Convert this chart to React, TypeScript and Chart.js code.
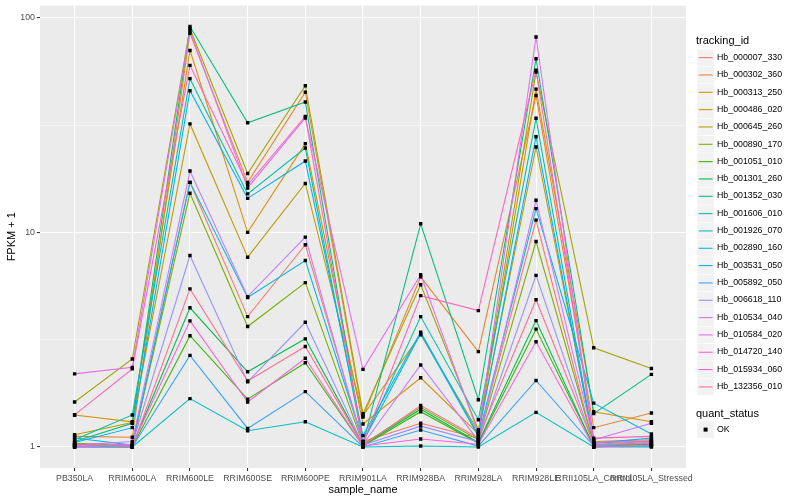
import React, { useEffect, useRef } from "react";
import { Chart, registerables } from "chart.js";

Chart.register(...registerables);

const FONT = "'Liberation Sans', Arial, Helvetica, sans-serif";

const categories = [
  "PB350LA", "RRIM600LA", "RRIM600LE", "RRIM600SE", "RRIM600PE", "RRIM901LA",
  "RRIM928BA", "RRIM928LA", "RRIM928LE", "RRII105LA_Control", "RRII105LA_Stressed",
];

const trackingIds = [
  "Hb_000007_330", "Hb_000302_360", "Hb_000313_250", "Hb_000486_020", "Hb_000645_260",
  "Hb_000890_170", "Hb_001051_010", "Hb_001301_260", "Hb_001352_030", "Hb_001606_010",
  "Hb_001926_070", "Hb_002890_160", "Hb_003531_050", "Hb_005892_050", "Hb_006618_110",
  "Hb_010534_040", "Hb_010584_020", "Hb_014720_140", "Hb_015934_060", "Hb_132356_010",
];

const seriesColors = [
  "#F8766D", "#EA8331", "#D89000", "#C09B00", "#A3A500", "#7CAE00", "#39B600", "#00BB4E",
  "#00BF7D", "#00C1A3", "#00BFC4", "#00BAE0", "#00B0F6", "#35A2FF", "#9590FF", "#C77CFF",
  "#E76BF3", "#FA62DB", "#FF62BC", "#FF6C91",
];

// FPKM + 1 per sample (order of categories)
const hb000007_330 = [1.02, 1.01, 17.1, 4.05, 8.75, 1.06, 1.29, 1.10, 11.4, 1.02, 1.04];
const hb000302_360 = [1.12, 1.11, 84.5, 17.1, 45.0, 1.38, 6.2, 2.78, 43.4, 1.23, 1.44];
const hb000313_250 = [1.41, 1.31, 70.4, 10.0, 25.9, 1.28, 2.1, 1.15, 46.5, 1.46, 1.31];
const hb000486_020 = [1.14, 1.30, 32.0, 7.66, 16.9, 1.40, 3.33, 1.18, 25.0, 1.06, 1.08];
const hb000645_260 = [1.62, 2.57, 89.0, 18.8, 48.2, 1.43, 5.7, 1.20, 55.8, 2.9, 2.32];
const hb000890_170 = [1.04, 1.02, 15.2, 3.64, 5.83, 1.03, 1.53, 1.08, 9.06, 1.03, 1.02];
const hb001051_010 = [1.01, 1.0, 3.30, 1.67, 2.47, 1.01, 1.46, 1.04, 3.54, 1.01, 1.01];
const hb001301_260 = [1.03, 1.01, 4.45, 2.24, 3.19, 1.02, 1.50, 1.05, 3.88, 1.0, 1.03];
const hb001352_030 = [1.06, 1.29, 91.0, 32.4, 40.5, 1.04, 10.96, 1.66, 64.4, 1.43, 2.18];
const hb001606_010 = [1.08, 1.41, 52.0, 15.1, 24.7, 1.05, 4.05, 1.34, 34.0, 1.05, 1.06];
const hb001926_070 = [1.0, 1.0, 1.68, 1.19, 1.31, 1.0, 1.01, 1.0, 1.45, 1.0, 1.0];
const hb002890_160 = [1.10, 1.02, 17.1, 4.97, 7.39, 1.06, 3.38, 1.12, 12.9, 1.6, 1.15];
const hb003531_050 = [1.05, 1.23, 45.7, 14.4, 21.5, 1.13, 3.43, 1.14, 27.9, 1.04, 1.10];
const hb005892_050 = [1.0, 1.0, 2.67, 1.22, 1.81, 1.0, 1.2, 1.01, 2.04, 1.01, 1.01];
const hb006618_110 = [1.01, 1.03, 7.8, 2.01, 3.81, 1.02, 1.25, 1.06, 6.3, 1.02, 1.05];
const hb010534_040 = [1.02, 1.06, 19.3, 5.02, 9.5, 1.03, 2.41, 1.07, 14.1, 1.08, 1.29];
const hb010584_020 = [2.19, 2.35, 87.0, 16.1, 34.1, 2.30, 6.34, 1.16, 81.3, 1.05, 1.07];
const hb014720_140 = [1.0, 1.02, 3.87, 1.62, 2.59, 1.01, 1.09, 1.03, 3.09, 1.0, 1.02];
const hb015934_060 = [1.41, 2.31, 60.0, 16.65, 34.7, 1.04, 5.07, 4.32, 56.9, 1.1, 1.12];
const hb132356_010 = [1.03, 1.0, 5.45, 2.03, 2.94, 1.02, 1.56, 1.10, 4.85, 1.03, 1.06];

const seriesValues = [
  hb000007_330, hb000302_360, hb000313_250, hb000486_020, hb000645_260,
  hb000890_170, hb001051_010, hb001301_260, hb001352_030, hb001606_010,
  hb001926_070, hb002890_160, hb003531_050, hb005892_050, hb006618_110,
  hb010534_040, hb010584_020, hb014720_140, hb015934_060, hb132356_010,
];

const yMajorTicks = [1, 10, 100];
const yMinorTicks = [3.1623, 31.623];

const isMajor = (v: number) => yMajorTicks.some((m) => Math.abs(m - v) < 1e-6);

export default function App() {
  const ref = useRef<HTMLCanvasElement>(null);

  useEffect(() => {
    if (!ref.current) return;
    const lineSets: any[] = seriesValues.map((vals, i) => ({
      type: "line",
      label: trackingIds[i],
      data: vals.map((v, j) => ({ x: j, y: v })),
      borderColor: seriesColors[i],
      backgroundColor: seriesColors[i],
      borderWidth: 1.07,
      pointRadius: 0,
      fill: false,
      tension: 0,
      order: 100 - i,
    }));
    const pointSet: any = {
      type: "line",
      label: "OK",
      data: seriesValues.flatMap((vals) => vals.map((v, j) => ({ x: j, y: v }))),
      showLine: false,
      pointStyle: "rect",
      pointRadius: 2.4,
      pointBackgroundColor: "#000000",
      pointBorderColor: "#000000",
      pointBorderWidth: 0,
      order: 0,
    };
    const panelBg = {
      id: "panelBg",
      beforeDraw(chart: any) {
        const { ctx, chartArea: a } = chart;
        ctx.save();
        ctx.fillStyle = "#EBEBEB";
        ctx.fillRect(a.left, a.top, a.right - a.left, a.bottom - a.top);
        ctx.restore();
      },
    };
    const chart = new Chart(ref.current, {
      type: "line",
      data: { datasets: [...lineSets, pointSet] },
      options: {
        animation: false,
        responsive: false,
        events: [],
        layout: { padding: { top: 5.5, right: 114, bottom: 0, left: 0 } },
        plugins: { legend: { display: false }, tooltip: { enabled: false } },
        scales: {
          x: {
            type: "linear",
            min: -0.6,
            max: 10.6,
            afterBuildTicks: (s: any) => {
              s.ticks = categories.map((_, i) => ({ value: i }));
            },
            afterFit: (s: any) => {
              s.height = 32;
              s.paddingLeft = 0;
              s.paddingRight = 0;
            },
            ticks: {
              autoSkip: false,
              maxRotation: 0,
              minRotation: 0,
              padding: 2,
              color: "#4D4D4D",
              font: { family: FONT, size: 8.8 },
              callback: (v: any) => categories[Number(v)] ?? "",
            },
            grid: {
              color: "#FFFFFF",
              lineWidth: 1.07,
              tickColor: "#333333",
              tickLength: 3,
              tickWidth: 1.07,
            },
            border: { display: false },
            title: {
              display: true,
              text: "sample_name",
              color: "#000000",
              font: { family: FONT, size: 11 },
              padding: { top: 0, bottom: 3.4 },
            },
          },
          y: {
            type: "logarithmic",
            min: 0.798,
            max: 114,
            afterBuildTicks: (s: any) => {
              s.ticks = [...yMajorTicks, ...yMinorTicks]
                .sort((a, b) => a - b)
                .map((v) => ({ value: v }));
            },
            afterFit: (s: any) => {
              s.width = 40;
              s.paddingTop = 0;
              s.paddingBottom = 0;
            },
            ticks: {
              autoSkip: false,
              padding: 2,
              color: "#4D4D4D",
              font: { family: FONT, size: 8.8 },
              callback: (v: any) => (isMajor(Number(v)) ? String(Number(v)) : ""),
            },
            grid: {
              color: "#FFFFFF",
              lineWidth: (c: any) => (c.tick && isMajor(c.tick.value) ? 1.07 : 0.53),
              tickColor: (c: any) => (c.tick && isMajor(c.tick.value) ? "#333333" : "rgba(0,0,0,0)"),
              tickLength: 3,
              tickWidth: 1.07,
            },
            border: { display: false },
            title: {
              display: true,
              text: "FPKM + 1",
              color: "#000000",
              font: { family: FONT, size: 11 },
              padding: { top: 5.5, bottom: 0 },
            },
          },
        },
      } as any,
      plugins: [panelBg],
    });
    return () => chart.destroy();
  }, []);

  const keyTop0 = 48.7;
  const step = 17.33;

  return (
    <div style={{ position: "absolute", left: 0, top: 0, width: 800, height: 500, background: "#FFFFFF", fontFamily: FONT, color: "#000" }}>
      <canvas ref={ref} width={800} height={500} style={{ position: "absolute", left: 0, top: 0, width: 800, height: 500 }} />
      <div style={{ position: "absolute", left: 696, top: 34.2, fontSize: 11, lineHeight: "13px", whiteSpace: "nowrap" }}>tracking_id</div>
      <svg width={20} height={360} style={{ position: "absolute", left: 697, top: keyTop0 }}>
        {trackingIds.map((id, i) => (
          <g key={id}>
            <rect x={0.3} y={step * i + 0.3} width={16.7} height={16.7} fill="#F2F2F2" />
            <line x1={1.7} x2={15.6} y1={step * i + 8.65} y2={step * i + 8.65} stroke={seriesColors[i]} strokeWidth={1.07} />
          </g>
        ))}
      </svg>
      {trackingIds.map((id, i) => (
        <div key={id} style={{ position: "absolute", left: 717, top: keyTop0 + step * i + 8.65 - 5.5, fontSize: 8.8, lineHeight: "11px", whiteSpace: "nowrap" }}>{id}</div>
      ))}
      <div style={{ position: "absolute", left: 696, top: 406.5, fontSize: 11, lineHeight: "13px", whiteSpace: "nowrap" }}>quant_status</div>
      <svg width={20} height={20} style={{ position: "absolute", left: 697, top: 421 }}>
        <rect x={0.3} y={0.3} width={16.7} height={16.7} fill="#F2F2F2" />
        <rect x={6.6} y={6.6} width={4} height={4} fill="#000" />
      </svg>
      <div style={{ position: "absolute", left: 717, top: 424.1, fontSize: 8.8, lineHeight: "11px", whiteSpace: "nowrap" }}>OK</div>
    </div>
  );
}
